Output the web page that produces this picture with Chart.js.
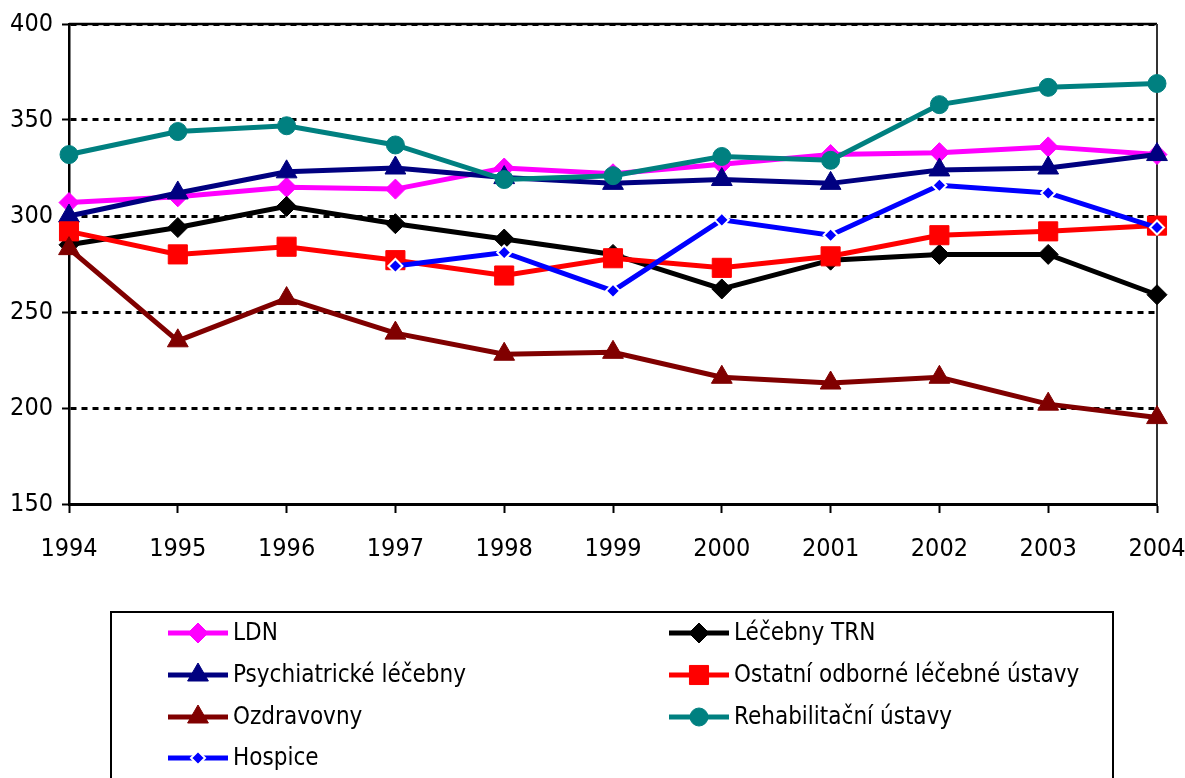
<!DOCTYPE html>
<html>
<head>
<meta charset="utf-8">
<script src="https://cdn.jsdelivr.net/npm/chart.js@4/dist/chart.umd.min.js"></script>
<style>
  html, body { margin: 0; padding: 0; background: #fff; }
  #wrap { width: 1185px; height: 778px; position: relative; }
</style>
</head>
<body>
<div id="wrap"><canvas id="beds-chart"></canvas></div>
<script>
// Chart data
const years = ['1994', '1995', '1996', '1997', '1998', '1999', '2000', '2001', '2002', '2003', '2004']
const ldn = [307, 310, 315, 314, 325, 322, 327, 332, 333, 336, 332]
const trn = [285, 294, 305, 296, 288, 280, 262, 277, 280, 280, 259]
const psych = [300, 312, 323, 325, 320, 317, 319, 317, 324, 325, 332]
const otherInst = [292, 280, 284, 277, 269, 278, 273, 279, 290, 292, 295]
const spas = [283, 235, 257, 239, 228, 229, 216, 213, 216, 202, 195]
const rehab = [332, 344, 347, 337, 319, 321, 331, 329, 358, 367, 369]
const hospice = [null, null, null, 274, 281, 261, 298, 290, 316, 312, 294]
const yMin = 150
const yMax = 400
const yStep = 50

const fontFamily = "'Liberation Sans Narrow', 'Arial Narrow', 'DejaVu Sans Condensed', sans-serif"
Chart.defaults.font.family = fontFamily
Chart.defaults.color = '#000'

function series(label, data, color, style, radius, index) {
    return {
        label: label,
        data: data,
        borderColor: color,
        backgroundColor: color,
        borderWidth: 5,
        pointStyle: style,
        pointRadius: radius,
        pointHoverRadius: radius,
        pointBorderWidth: 1,
        pointBorderColor: color,
        pointBackgroundColor: color,
        tension: 0,
        spanGaps: false,
        order: 10 - index // later series on top, like the original
    }
}

const datasets = [
    series('LDN', ldn, '#ff00ff', 'rectRot', 10, 0),
    series('Léčebny TRN', trn, '#000000', 'rectRot', 10, 1),
    series('Psychiatrické léčebny', psych, '#000080', 'triangle', 12, 2),
    series('Ostatní odborné léčebné ústavy', otherInst, '#ff0000', 'rect', 13.5, 3),
    series('Ozdravovny', spas, '#800000', 'triangle', 12, 4),
    series('Rehabilitační ústavy', rehab, '#008080', 'circle', 9, 5),
    series('Hospice', hospice, '#0000ff', 'rectRot', 7, 6)
]
// hospice diamonds have a white rim
datasets[6].pointBorderColor = '#ffffff'
datasets[6].pointBorderWidth = 2

// top and right edges of the plot frame
const plotFrame = {
    id: 'plotFrame',
    beforeDatasetsDraw(chart) {
        const {ctx, chartArea} = chart
        ctx.save()
        ctx.strokeStyle = '#000'
        ctx.lineWidth = 2.5
        ctx.beginPath()
        ctx.moveTo(chartArea.left, chartArea.top)
        ctx.lineTo(chartArea.right, chartArea.top)
        ctx.stroke()
        ctx.strokeStyle = '#333'
        ctx.lineWidth = 2
        ctx.beginPath()
        ctx.moveTo(chartArea.right, chartArea.top)
        ctx.lineTo(chartArea.right, chartArea.bottom)
        ctx.stroke()
        ctx.restore()
    }
}

function drawMarker(ctx, style, r, x, y) {
    if (style === 'circle') {
        ctx.arc(x, y, r, 0, Math.PI * 2)
    } else if (style === 'rect') {
        const s = r * Math.SQRT1_2
        ctx.rect(x - s, y - s, 2 * s, 2 * s)
    } else if (style === 'triangle') {
        const h = r * Math.sqrt(3) / 2
        ctx.moveTo(x, y - r)
        ctx.lineTo(x + h, y + r / 2)
        ctx.lineTo(x - h, y + r / 2)
        ctx.closePath()
    } else {
        ctx.moveTo(x, y - r)
        ctx.lineTo(x + r, y)
        ctx.lineTo(x, y + r)
        ctx.lineTo(x - r, y)
        ctx.closePath()
    }
}

// boxed legend in two columns below the chart
const boxLegend = {
    id: 'boxLegend',
    afterDraw(chart) {
        const ctx = chart.ctx
        const box = {left: 111, top: 612, right: 1113, bottom: 800}
        const colX = [168, 669]
        const rowY = [633, 675, 717, 758]
        ctx.save()
        ctx.strokeStyle = '#000'
        ctx.lineWidth = 2
        ctx.strokeRect(box.left, box.top, box.right - box.left, box.bottom - box.top)

        chart.data.datasets.forEach((ds, i) => {
            const x = colX[i % 2]
            const y = rowY[Math.floor(i / 2)]
            ctx.strokeStyle = ds.borderColor
            ctx.lineWidth = 5
            ctx.beginPath()
            ctx.moveTo(x, y)
            ctx.lineTo(x + 60, y)
            ctx.stroke()

            ctx.fillStyle = ds.pointBackgroundColor
            ctx.strokeStyle = ds.pointBorderColor
            ctx.lineWidth = ds.pointBorderWidth
            ctx.beginPath()
            drawMarker(ctx, ds.pointStyle, ds.pointRadius, x + 30, y)
            ctx.fill()
            ctx.stroke()

            ctx.fillStyle = '#000'
            ctx.font = '24px ' + fontFamily
            ctx.textBaseline = 'middle'
            ctx.textAlign = 'left'
            ctx.fillText(ds.label, x + 65, y + 1)
        })
        ctx.restore()
    }
}

const ctx = document.getElementById('beds-chart')
const bedsChart = new Chart(ctx, {
    type: 'line',
    data: {
        labels: years,
        datasets: datasets
    },
    options: {
        responsive: true,
        maintainAspectRatio: false,
        animation: false,
        layout: {
            padding: {top: 24, right: 28, bottom: 204, left: 0}
        },
        scales: {
            x: {
                offset: false,
                grid: {
                    drawOnChartArea: false,
                    drawTicks: true,
                    tickLength: 9,
                    tickWidth: 2,
                    tickColor: '#000'
                },
                border: {color: '#000', width: 3},
                ticks: {
                    font: {size: 25},
                    color: '#000',
                    padding: 21,
                    maxRotation: 0,
                    autoSkip: false
                },
                afterFit(scale) {
                    scale.height = 70
                    scale.paddingLeft = 0
                    scale.paddingRight = 0
                }
            },
            y: {
                min: yMin,
                max: yMax,
                grid: {
                    color: '#000',
                    lineWidth: 3,
                    tickLength: 7,
                    tickWidth: 2,
                    tickColor: '#000',
                    tickBorderDash: []
                },
                border: {color: '#000', width: 2.5, dash: [6, 5]},
                ticks: {
                    stepSize: yStep,
                    font: {size: 25},
                    color: '#000',
                    padding: 9
                },
                afterFit(scale) {
                    scale.width = 69
                    scale.paddingTop = 0
                    scale.paddingBottom = 0
                }
            }
        },
        plugins: {
            legend: {display: false},
            tooltip: {enabled: false}
        }
    },
    plugins: [plotFrame, boxLegend]
})
</script>
</body>
</html>
